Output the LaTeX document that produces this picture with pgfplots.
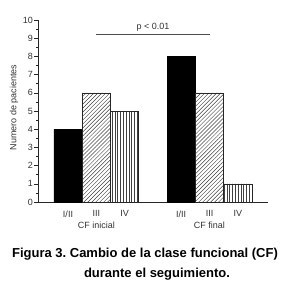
\documentclass[border=0pt]{standalone}
\usepackage{fontspec}
\setmainfont{Liberation Sans}
\usepackage{pgfplots}
\pgfplotsset{compat=1.18}
\usetikzlibrary{patterns.meta}
\frenchspacing
\begin{document}
\begin{tikzpicture}
\path (-38pt,-88pt) rectangle (246pt,202pt);
\begin{axis}[
  at={(0pt,0pt)}, anchor=south west,
  x=28.3pt, y=18.2pt,
  xmin=-0.06, xmax=8.07, ymin=0, ymax=10,
  axis lines=left,
  axis line style={-, line width=0.6pt, black!85},
  clip=false,
  xtick={1,2,3,5,6,7},
  xticklabels={I/II,III,IV,I/II,III,IV},
  x tick style={draw=none},
  ytick={0,1,...,10},
  minor y tick num=1,
  tick align=outside,
  major tick length=4pt,
  minor tick length=2pt,
  y tick style={line width=0.5pt, black!85},
  tick label style={font=\fontsize{9}{10}\selectfont, text=black!80},
  /pgf/number format/assume math mode=true,
  yticklabel style={inner sep=1pt},
  xticklabel style={yshift=-1pt},
]
\addplot[ybar, bar width=28.3pt, bar shift=0pt, fill=black, draw=black] coordinates {(1,4) (5,8)};
\addplot[ybar, bar width=28.3pt, bar shift=0pt, draw=black!85, line width=0.5pt,
  pattern={Lines[angle=45,distance=2.8pt,line width=0.45pt]}, pattern color=black!75] coordinates {(2,6) (6,6)};
\addplot[ybar, bar width=28.3pt, bar shift=0pt, draw=black!85, line width=0.5pt,
  pattern={Lines[angle=90,distance=2.8pt,line width=0.45pt]}, pattern color=black!75] coordinates {(3,5) (7,1)};
\draw[black!70, line width=0.5pt] (axis cs:2,9.23) -- (axis cs:6.03,9.23);
\node[font=\fontsize{9}{10}\selectfont, text=black!80] at (axis cs:4.0,9.62) {p < 0.01};
\node[font=\fontsize{9}{10}\selectfont, text=black!80] at (axis cs:2,-1.3) {CF inicial};
\node[font=\fontsize{9}{10}\selectfont, text=black!80] at (axis cs:6,-1.3) {CF final};
\end{axis}
\node[rotate=90, font=\fontsize{9}{10}\selectfont, text=black!80] at (-24pt,94.5pt) {Numero de pacientes};
\node[anchor=base, inner sep=0pt, font=\fontsize{13}{14}\selectfont\bfseries] at (107pt,-56pt) {Figura 3. Cambio de la clase funcional (CF)};
\node[anchor=base, inner sep=0pt, font=\fontsize{13}{14}\selectfont\bfseries] at (119pt,-75pt) {durante el seguimiento.};
\end{tikzpicture}
\end{document}
